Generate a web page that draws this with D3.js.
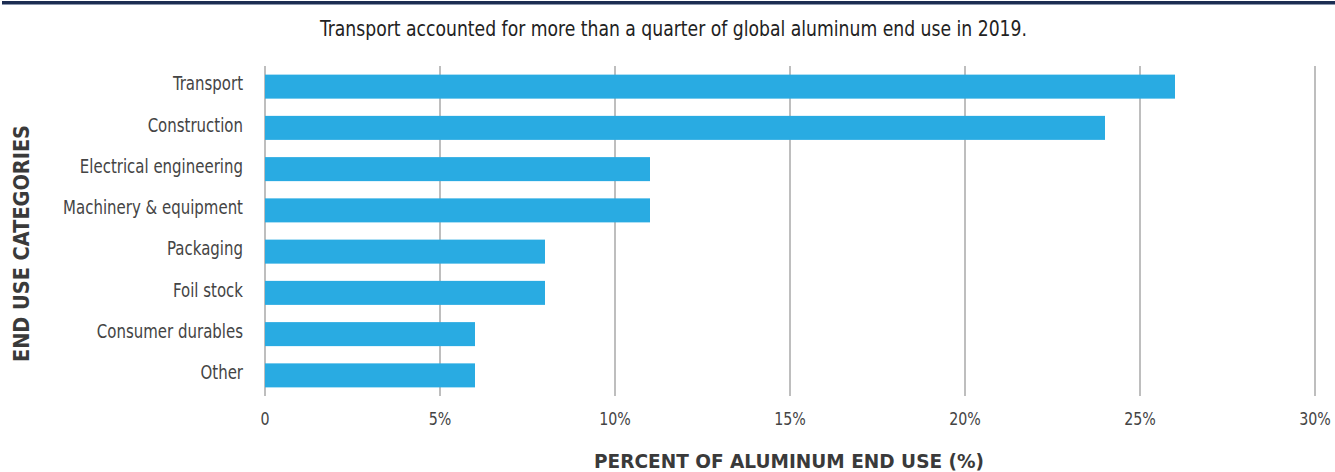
<!DOCTYPE html>
<html>
<head>
<meta charset="utf-8">
<script src="https://cdn.jsdelivr.net/npm/d3@7"></script>
<style>
  html, body { margin: 0; padding: 0; background: #fff; }
  svg { display: block; }
</style>
</head>
<body>
<svg id="chart" width="1335" height="472"></svg>
<script>
const categories = ["Transport", "Construction", "Electrical engineering", "Machinery & equipment", "Packaging", "Foil stock", "Consumer durables", "Other"];
const values = [26, 24, 11, 11, 8, 8, 6, 6];
const tickValues = [0, 5, 10, 15, 20, 25, 30];
const tickLabels = ["0", "5%", "10%", "15%", "20%", "25%", "30%"];
const titleText = "Transport accounted for more than a quarter of global aluminum end use in 2019.";
const xTitle = "PERCENT OF ALUMINUM END USE (%)";
const yTitle = "END USE CATEGORIES";

const svg = d3.select("#chart");
const W = 1335, H = 472;
const narrow = "'Liberation Sans Narrow', 'DejaVu Sans Condensed', 'Roboto', sans-serif";
const boldFont = "'DejaVu Sans', 'Open Sans', sans-serif";

// top rule
svg.append("rect").attr("x", 2).attr("y", 1).attr("width", W - 2).attr("height", 3.5).attr("fill", "#1c2d52");
svg.append("rect").attr("x", 2).attr("y", 4.2).attr("width", W - 2).attr("height", 0.8).attr("fill", "#8a96ad");

const x = d3.scaleLinear().domain([0, 30]).range([265, 1315]);
const y = d3.scaleBand().domain(categories).range([66, 396]).paddingInner(0.418).paddingOuter(0.209);

// title
svg.append("text")
  .attr("x", 673.5).attr("y", 36)
  .attr("text-anchor", "middle")
  .attr("font-family", narrow).attr("font-size", 22)
  .attr("fill", "#222")
  .attr("textLength", 707).attr("lengthAdjust", "spacingAndGlyphs")
  .text(titleText);

// grid lines
const g = svg.append("g");
g.selectAll("line.grid").data(tickValues).join("line")
  .attr("class", "grid")
  .attr("x1", d => x(d)).attr("x2", d => x(d))
  .attr("y1", 66).attr("y2", 396)
  .attr("stroke", "#a8a8a8").attr("stroke-width", 1.5);

// bars
g.selectAll("rect.bar").data(categories).join("rect")
  .attr("class", "bar")
  .attr("x", x(0))
  .attr("y", d => y(d))
  .attr("width", (d, i) => x(values[i]) - x(0))
  .attr("height", y.bandwidth())
  .attr("fill", "#29abe2");

// category labels (horizontally condensed)
g.selectAll("text.cat").data(categories).join("text")
  .attr("class", "cat")
  .attr("transform", d => `translate(243,${y(d) + y.bandwidth() / 2 - 3}) scale(0.876,1)`)
  .attr("dy", "0.35em")
  .attr("text-anchor", "end")
  .attr("font-family", narrow).attr("font-size", 19)
  .attr("fill", "#444")
  .text(d => d);

// tick labels
g.selectAll("text.tick").data(tickValues).join("text")
  .attr("class", "tick")
  .attr("transform", d => `translate(${x(d)},425) scale(0.88,1)`)
  .attr("text-anchor", "middle")
  .attr("font-family", narrow).attr("font-size", 18)
  .attr("fill", "#444")
  .text((d, i) => tickLabels[i]);

// axis titles
svg.append("text")
  .attr("x", 789).attr("y", 468)
  .attr("text-anchor", "middle")
  .attr("font-family", boldFont).attr("font-weight", "bold").attr("font-size", 19)
  .attr("fill", "#3a3a3a")
  .attr("textLength", 390).attr("lengthAdjust", "spacingAndGlyphs")
  .text(xTitle);

svg.append("text")
  .attr("transform", "translate(29,243.5) rotate(-90)")
  .attr("text-anchor", "middle")
  .attr("font-family", boldFont).attr("font-weight", "bold").attr("font-size", 21)
  .attr("fill", "#3a3a3a")
  .attr("textLength", 237).attr("lengthAdjust", "spacingAndGlyphs")
  .text(yTitle);
</script>
</body>
</html>
